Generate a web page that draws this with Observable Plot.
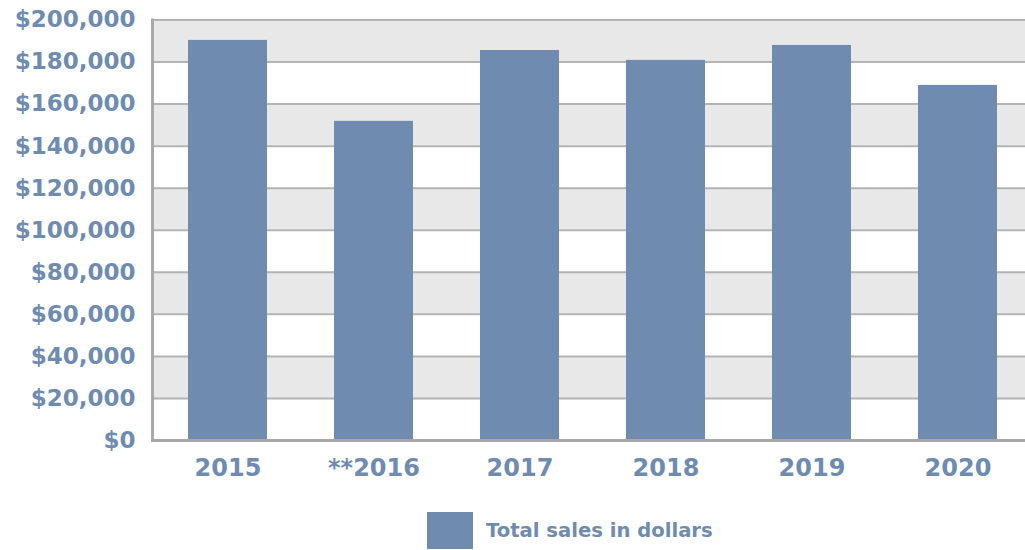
<!DOCTYPE html>
<html>
<head>
<meta charset="utf-8">
<script src="https://cdn.jsdelivr.net/npm/d3@7"></script>
<script src="https://cdn.jsdelivr.net/npm/@observablehq/plot@0.6"></script>
<style>
  body { margin: 0; background: #fff; font-family: "DejaVu Sans", sans-serif; }
  #chart { position: relative; width: 1025px; height: 550px; }
  #legend { position: absolute; left: 427px; top: 512px; display: flex; align-items: center; }
  #legend .sw { width: 46px; height: 37px; background: #6f8bb0; }
  #legend .lb { margin-left: 13px; color: #6f8bb0; font-weight: bold; font-size: 19.6px; }
</style>
</head>
<body>
<div id="chart"></div>
<script>
const years = ["2015", "**2016", "2017", "2018", "2019", "2020"];
const sales = [190300, 151800, 185500, 180800, 187900, 168900];
const yTicks = [0, 20000, 40000, 60000, 80000, 100000, 120000, 140000, 160000, 180000, 200000];
const shadedBands = [[20000, 40000], [60000, 80000], [100000, 120000], [140000, 160000], [180000, 200000]];
const seriesName = "Total sales in dollars";

const data = years.map((y, i) => ({year: y, sales: sales[i]}));
const bands = shadedBands.map(([a, b]) => ({y1: a, y2: b}));
const textColor = "#6f8bb0";
const barColor = "#6f8bb0";

const plot = Plot.plot({
  width: 1025,
  height: 500,
  marginTop: 19.5,
  marginBottom: 60,
  marginLeft: 152,
  marginRight: 0,
  style: {fontFamily: "DejaVu Sans, sans-serif", color: textColor, background: "#fff"},
  x: {domain: years, paddingInner: 0.4604, paddingOuter: 0.2117, align: 0.565, label: null},
  y: {domain: [0, 200000], label: null},
  marks: [
    Plot.rectY(bands, {y1: "y1", y2: "y2", fill: "#e8e8e8"}),
    Plot.ruleY(yTicks, {stroke: "#b4b4b4", strokeWidth: 2}),
    Plot.barY(data, {x: "year", y: "sales", fill: barColor}),
    Plot.ruleY([0], {stroke: "#a8a8a8", strokeWidth: 3}),
    Plot.frame({anchor: "left", stroke: "#a8a8a8", strokeWidth: 3}),
    Plot.axisY({ticks: yTicks, tickFormat: d3.format("$,"), tickSize: 0, tickPadding: 17,
      fontSize: 23, fontWeight: "bold", fill: textColor, label: null}),
    Plot.axisX({tickSize: 0, tickPadding: 18, fontSize: 24, fontWeight: "bold", fill: textColor, label: null})
  ]
});
document.getElementById("chart").appendChild(plot);
const leg = document.createElement("div");
leg.id = "legend";
leg.innerHTML = `<div class="sw"></div><div class="lb">${seriesName}</div>`;
document.getElementById("chart").appendChild(leg);
</script>
</body>
</html>
